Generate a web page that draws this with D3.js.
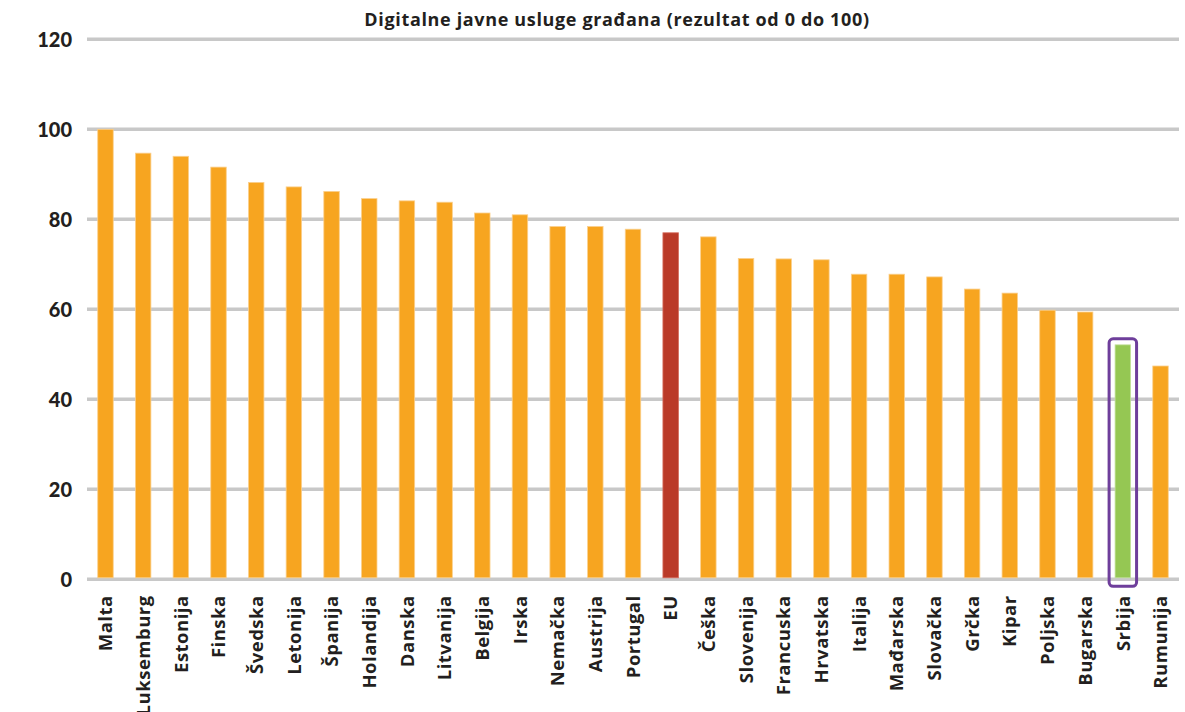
<!DOCTYPE html>
<html>
<head>
<meta charset="utf-8">
<script src="https://cdn.jsdelivr.net/npm/d3@7"></script>
<style>
  html, body { margin: 0; padding: 0; background: #ffffff; }
  svg { display: block; }
  text { font-family: "Open Sans", "Lato", sans-serif; font-weight: 700; fill: #231F20; }
</style>
</head>
<body>
<svg id="chart" width="1185" height="712"></svg>
<script>
// Digital public services for citizens, score 0–100
const title = "Digitalne javne usluge građana (rezultat od 0 do 100)";
const countries = ["Malta", "Luksemburg", "Estonija", "Finska", "Švedska", "Letonija", "Španija",
  "Holandija", "Danska", "Litvanija", "Belgija", "Irska", "Nemačka", "Austrija", "Portugal", "EU",
  "Češka", "Slovenija", "Francuska", "Hrvatska", "Italija", "Mađarska", "Slovačka", "Grčka",
  "Kipar", "Poljska", "Bugarska", "Srbija", "Rumunija"];
const scores = [100, 94.7, 94.0, 91.6, 88.2, 87.2, 86.2, 84.6, 84.1, 83.8, 81.4, 81.0, 78.4, 78.4,
  77.8, 77.0, 76.1, 71.3, 71.2, 71.0, 67.8, 67.8, 67.2, 64.5, 63.6, 59.8, 59.4, 52.1, 47.4];
const yTicks = [0, 20, 40, 60, 80, 100, 120];
const averageLabel = "EU";
const focusLabel = "Srbija";

const colors = { bar: "#F7A520", barEdge: "#FBD08E", avg: "#BA3A28", focus: "#95C753", ring: "#6E3E9B", grid: "#C8C8C8" };

const data = countries.map((c, i) => ({ name: c, value: scores[i] }));

const svg = d3.select("#chart");
const plotLeft = 87, plotRight = 1179, plotTop = 39.3, plotBottom = 579.3;

const x = d3.scaleBand().domain(countries).range([plotLeft, plotRight]).paddingInner(0.589).paddingOuter(0.285);
const y = d3.scaleLinear().domain([0, 120]).range([plotBottom, plotTop]);

// title
svg.append("text")
  .attr("x", 617).attr("y", 26)
  .attr("text-anchor", "middle")
  .style("font-size", "18px")
  .style("letter-spacing", "0.65px")
  .text(title);

// gridlines
svg.append("g").selectAll("line").data(yTicks).join("line")
  .attr("x1", plotLeft).attr("x2", plotRight)
  .attr("y1", d => y(d)).attr("y2", d => y(d))
  .attr("stroke", colors.grid).attr("stroke-width", 3.5);

// y-axis tick labels
const yAxis = d3.axisLeft(y).tickValues(yTicks).tickSize(0).tickPadding(0);
svg.append("g")
  .attr("transform", `translate(72,0)`)
  .call(yAxis)
  .call(g => g.select(".domain").remove())
  .call(g => g.selectAll("text")
    .attr("dy", "0.35em")
    .style("font-size", "20px")
    .style("font-family", "Lato, 'Open Sans', sans-serif")
    .style("font-weight", 900)
    .attr("fill", "#231F20"));

// bars
svg.append("g").selectAll("rect").data(data).join("rect")
  .attr("x", d => x(d.name))
  .attr("width", x.bandwidth())
  .attr("y", d => y(d.value))
  .attr("height", d => y(0) - 1.5 - y(d.value))
  .attr("fill", d => d.name === averageLabel ? colors.avg : d.name === focusLabel ? colors.focus : colors.bar)
  .attr("stroke", d => d.name === averageLabel ? "#D46A5A" : d.name === focusLabel ? "#C2E09A" : colors.barEdge)
  .attr("stroke-width", 0.8);

// highlight frame around the focus bar
const f = data.find(d => d.name === focusLabel);
svg.append("rect")
  .attr("x", x(f.name) - 6)
  .attr("y", y(f.value) - 6)
  .attr("width", x.bandwidth() + 12)
  .attr("height", y(0) - y(f.value) + 13)
  .attr("rx", 4).attr("ry", 4)
  .attr("fill", "none")
  .attr("stroke", colors.ring)
  .attr("stroke-width", 3);

// category labels, rotated
const xAxis = d3.axisBottom(x).tickSize(0).tickPadding(0);
svg.append("g")
  .attr("transform", `translate(0,${plotBottom})`)
  .call(xAxis)
  .call(g => g.select(".domain").remove())
  .call(g => g.selectAll("text")
    .attr("transform", "rotate(-90)")
    .attr("x", -16)
    .attr("y", 0)
    .attr("dy", "0.36em")
    .attr("text-anchor", "end")
    .style("font-size", "18.5px")
    .style("letter-spacing", "0.5px")
    .style("font-family", "'Open Sans', Lato, sans-serif")
    .style("font-weight", 700)
    .attr("fill", "#231F20"));
</script>
</body>
</html>
